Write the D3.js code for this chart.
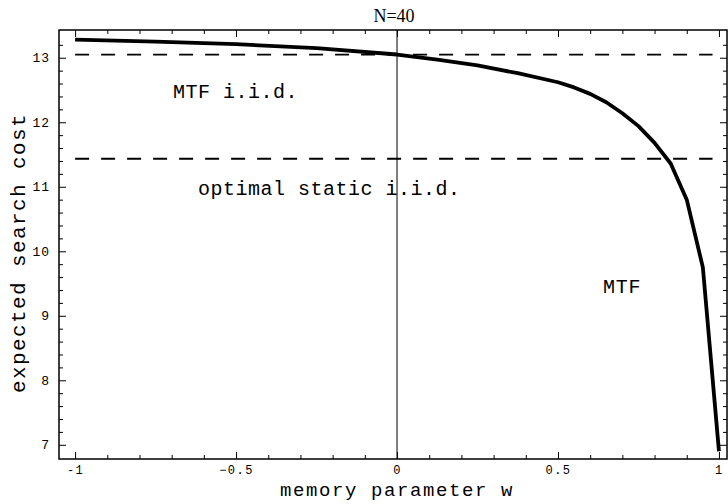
<!DOCTYPE html>
<html>
<head>
<meta charset="utf-8">
<script src="https://cdn.jsdelivr.net/npm/d3@7"></script>
<style>
  body { margin: 0; background: #fff; }
  svg { display: block; }
  .tick text { font-family: "Liberation Mono", "DejaVu Sans Mono", monospace; font-size: 13px; letter-spacing: 1px; fill: #000; }
  .xt .tick text { font-size: 12px; letter-spacing: 1.5px; }
  .lbl { font-family: "Liberation Mono", "DejaVu Sans Mono", monospace; fill: #000; }
</style>
</head>
<body>
<div id="chart"></div>
<script>
// memory parameter w and expected search cost of MTF (N=40)
const wValues = [-1, -0.75, -0.5, -0.25, 0, 0.125, 0.25, 0.375, 0.5, 0.55, 0.6, 0.65, 0.7, 0.75, 0.8, 0.85, 0.9, 0.95, 1];
const mtfCost = [13.28, 13.25, 13.21, 13.15, 13.05, 12.97, 12.88, 12.76, 12.62, 12.54, 12.44, 12.31, 12.14, 11.94, 11.68, 11.36, 10.8, 9.75, 6.9];

// horizontal reference levels
const refLevels = [
  { name: "MTF i.i.d.", value: 13.047 },
  { name: "optimal static i.i.d.", value: 11.434 }
];

const xMajor = [-1, -0.5, 0, 0.5, 1];
const yMajor = [7, 8, 9, 10, 11, 12, 13];

const width = 728, height = 504;
const frame = { left: 59, right: 727, top: 30, bottom: 459 };

const svg = d3.select('#chart').append('svg')
  .attr('width', width)
  .attr('height', height);

const x = d3.scaleLinear().domain([-1.05, 1.025]).range([frame.left, frame.right]);
const y = d3.scaleLinear().domain([6.78, 13.43]).range([frame.bottom, frame.top]);

const xMinor = d3.range(-10, 11).map(d => d / 10).filter(d => !xMajor.includes(d));
const yMinor = d3.range(35, 67).map(d => d / 5).filter(d => !yMajor.includes(d) && d <= 13.4);

const fmtX = d => d === 0 ? '0' : (Number.isInteger(d) ? String(d) : d3.format('.1f')(d));

// major ticks with labels
svg.append('g')
  .attr('class', 'xt')
  .attr('transform', `translate(0,${frame.bottom})`)
  .call(d3.axisBottom(x).tickValues(xMajor).tickSize(-7).tickPadding(6).tickFormat(fmtX));
svg.append('g')
  .attr('transform', `translate(${frame.left},0)`)
  .call(d3.axisLeft(y).tickValues(yMajor).tickSize(-7).tickPadding(9).tickFormat(d3.format('d')));

// minor ticks + top/right frame ticks
svg.append('g')
  .attr('transform', `translate(0,${frame.bottom})`)
  .call(d3.axisBottom(x).tickValues(xMinor).tickSize(-4).tickFormat(''));
svg.append('g')
  .attr('transform', `translate(${frame.left},0)`)
  .call(d3.axisLeft(y).tickValues(yMinor).tickSize(-4).tickFormat(''));
svg.append('g')
  .attr('transform', `translate(0,${frame.top})`)
  .call(d3.axisTop(x).tickValues(xMajor).tickSize(-7).tickFormat(''));
svg.append('g')
  .attr('transform', `translate(0,${frame.top})`)
  .call(d3.axisTop(x).tickValues(xMinor).tickSize(-4).tickFormat(''));
svg.append('g')
  .attr('transform', `translate(${frame.right},0)`)
  .call(d3.axisRight(y).tickValues(yMajor).tickSize(-7).tickFormat(''));
svg.append('g')
  .attr('transform', `translate(${frame.right},0)`)
  .call(d3.axisRight(y).tickValues(yMinor).tickSize(-4).tickFormat(''));

svg.selectAll('.domain').remove();
svg.selectAll('.tick line').attr('stroke', '#000').attr('stroke-width', 1);

// frame
svg.append('rect')
  .attr('x', frame.left).attr('y', frame.top)
  .attr('width', frame.right - frame.left).attr('height', frame.bottom - frame.top)
  .attr('fill', 'none').attr('stroke', '#000').attr('stroke-width', 1.5);

// vertical axis at w=0
svg.append('line')
  .attr('x1', x(0)).attr('x2', x(0))
  .attr('y1', frame.top).attr('y2', frame.bottom)
  .attr('stroke', '#000').attr('stroke-width', 1);

// dashed reference lines
svg.selectAll('.ref')
  .data(refLevels)
  .enter().append('line')
  .attr('class', 'ref')
  .attr('x1', x(-1)).attr('x2', x(0.98))
  .attr('y1', d => y(d.value)).attr('y2', d => y(d.value))
  .attr('stroke', '#000').attr('stroke-width', 1.8)
  .attr('stroke-dasharray', '14,12');

// MTF curve
const line = d3.line()
  .x((d, i) => x(wValues[i]))
  .y(d => y(d));
svg.append('path')
  .datum(mtfCost)
  .attr('d', line)
  .attr('fill', 'none')
  .attr('stroke', '#000')
  .attr('stroke-width', 3.8)
  .attr('stroke-linejoin', 'round');

// annotations
svg.append('text').attr('class', 'lbl')
  .attr('x', 173).attr('y', 98)
  .style('font-size', '20px').style('letter-spacing', '0.5px')
  .text('MTF i.i.d.');
svg.append('text').attr('class', 'lbl')
  .attr('x', 198).attr('y', 195)
  .style('font-size', '20px').style('letter-spacing', '0.5px')
  .text('optimal static i.i.d.');
svg.append('text').attr('class', 'lbl')
  .attr('x', 603).attr('y', 293)
  .style('font-size', '20px').style('letter-spacing', '0.8px')
  .text('MTF');

// title and axis labels
svg.append('text')
  .attr('x', 394).attr('y', 22)
  .attr('text-anchor', 'middle')
  .style('font-family', '"Liberation Serif", "Times New Roman", serif')
  .style('font-size', '18px')
  .text('N=40');
svg.append('text').attr('class', 'lbl')
  .attr('x', 397).attr('y', 496)
  .attr('text-anchor', 'middle')
  .style('font-size', '19px').style('letter-spacing', '1.6px')
  .text('memory parameter w');
svg.append('text').attr('class', 'lbl')
  .attr('transform', 'translate(25,253) rotate(-90)')
  .attr('text-anchor', 'middle')
  .style('font-size', '21px').style('letter-spacing', '1.4px')
  .text('expected search cost');
</script>
</body>
</html>
